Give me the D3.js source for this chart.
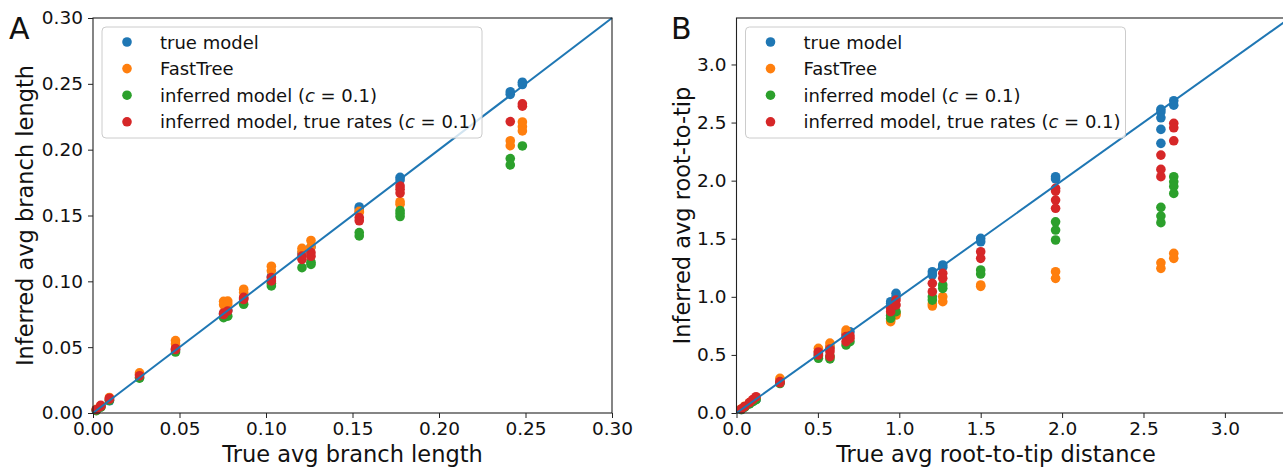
<!DOCTYPE html>
<html>
<head>
<meta charset="utf-8">
<script src="https://cdn.jsdelivr.net/npm/d3@7"></script>
<style>
  body { margin: 0; background: #fff; }
  svg { display: block; font-family: "DejaVu Sans", sans-serif; }
</style>
</head>
<body>
<svg id="chart" width="1283" height="467"></svg>
<script>
// ---- data ([true, inferred]) ----
const seriesNames = ["true model", "FastTree", "inferred model (c = 0.1)", "inferred model, true rates (c = 0.1)"];
const seriesColors = ["#1f77b4", "#ff7f0e", "#2ca02c", "#d62728"];

const ticksA = [0, 0.05, 0.10, 0.15, 0.20, 0.25, 0.30];
const ticksB = [0, 0.5, 1.0, 1.5, 2.0, 2.5, 3.0];

const branchTrue = [[0.0019,0.0022],[0.0045,0.0047],[0.0095,0.0093],[0.0269,0.0268],[0.0477,0.0478],[0.0755,0.0757],[0.0779,0.0780],[0.0871,0.0872],[0.1031,0.1035],[0.1208,0.1212],[0.126,0.1262],[0.1539,0.1565],[0.1539,0.1550],[0.1775,0.1790],[0.1775,0.1770],[0.2412,0.2440],[0.2412,0.2420],[0.2482,0.2512],[0.2482,0.2495]];
const branchFastTree = [[0.0019,0.0028],[0.0045,0.0055],[0.0095,0.0118],[0.0269,0.0305],[0.0269,0.0295],[0.0477,0.0550],[0.0477,0.0525],[0.0755,0.0848],[0.0755,0.0822],[0.0779,0.0850],[0.0779,0.0828],[0.0871,0.0940],[0.0871,0.0915],[0.1031,0.1115],[0.1031,0.1080],[0.1208,0.1250],[0.1208,0.1225],[0.126,0.1310],[0.126,0.1260],[0.1539,0.1532],[0.1539,0.1525],[0.1775,0.1605],[0.1775,0.1585],[0.2412,0.2068],[0.2412,0.2030],[0.2482,0.2210],[0.2482,0.2175],[0.2482,0.2142]];
const branchInferred = [[0.0019,0.0018],[0.0045,0.0044],[0.0095,0.0096],[0.0269,0.0265],[0.0477,0.0463],[0.0755,0.0724],[0.0779,0.0735],[0.0871,0.0826],[0.1031,0.0965],[0.1031,0.0985],[0.1208,0.1104],[0.126,0.1128],[0.126,0.1145],[0.1539,0.1370],[0.1539,0.1345],[0.1775,0.1537],[0.1775,0.1515],[0.1775,0.1492],[0.2412,0.1932],[0.2412,0.1884],[0.2482,0.2028]];
const branchTrueRates = [[0.0019,0.0025],[0.0045,0.0058],[0.0045,0.0050],[0.0095,0.0112],[0.0095,0.0105],[0.0269,0.0283],[0.0477,0.0490],[0.0477,0.0482],[0.0755,0.0760],[0.0755,0.0748],[0.0779,0.0775],[0.0871,0.0878],[0.0871,0.0862],[0.1031,0.1028],[0.1031,0.1003],[0.1208,0.1192],[0.1208,0.1167],[0.126,0.1218],[0.126,0.1190],[0.1539,0.1484],[0.1539,0.1460],[0.1775,0.1724],[0.1775,0.1700],[0.1775,0.1670],[0.2412,0.2213],[0.2482,0.2348],[0.2482,0.2330]];

const rootTrue = [[0.03,0.03],[0.05,0.05],[0.08,0.08],[0.10,0.10],[0.12,0.115],[0.267,0.262],[0.503,0.51],[0.574,0.57],[0.673,0.675],[0.697,0.70],[0.947,0.944],[0.947,0.958],[0.98,1.03],[0.98,1.0],[1.203,1.216],[1.203,1.188],[1.267,1.274],[1.267,1.255],[1.5,1.503],[1.5,1.474],[1.96,2.034],[1.96,2.015],[2.607,2.614],[2.607,2.590],[2.607,2.541],[2.607,2.441],[2.607,2.321],[2.686,2.688],[2.686,2.650]];
const rootFastTree = [[0.03,0.035],[0.05,0.058],[0.08,0.09],[0.10,0.11],[0.12,0.13],[0.267,0.298],[0.267,0.285],[0.503,0.557],[0.503,0.53],[0.574,0.602],[0.574,0.571],[0.673,0.714],[0.673,0.69],[0.947,0.786],[0.947,0.80],[0.98,0.843],[0.98,0.86],[1.203,0.921],[1.203,0.94],[1.267,1.001],[1.267,0.958],[1.5,1.102],[1.5,1.09],[1.96,1.216],[1.96,1.159],[2.607,1.293],[2.607,1.245],[2.686,1.374],[2.686,1.331]];
const rootInferred = [[0.03,0.03],[0.05,0.05],[0.08,0.078],[0.10,0.098],[0.12,0.115],[0.267,0.254],[0.503,0.49],[0.503,0.471],[0.574,0.465],[0.574,0.49],[0.673,0.585],[0.697,0.614],[0.947,0.815],[0.947,0.84],[0.98,0.872],[1.203,0.972],[1.203,1.0],[1.267,1.102],[1.267,1.073],[1.5,1.231],[1.5,1.196],[1.96,1.646],[1.96,1.575],[1.96,1.489],[2.607,1.77],[2.607,1.695],[2.607,1.638],[2.686,2.034],[2.686,1.99],[2.686,1.95],[2.686,1.89]];
const rootTrueRates = [[0.03,0.035],[0.05,0.056],[0.08,0.09],[0.10,0.115],[0.12,0.14],[0.267,0.27],[0.267,0.26],[0.503,0.499],[0.503,0.525],[0.574,0.528],[0.574,0.485],[0.574,0.55],[0.673,0.657],[0.673,0.614],[0.697,0.643],[0.697,0.665],[0.947,0.872],[0.947,0.90],[0.98,0.972],[0.98,0.929],[1.203,1.116],[1.203,1.044],[1.267,1.202],[1.267,1.159],[1.5,1.388],[1.5,1.331],[1.96,1.934],[1.96,1.91],[1.96,1.833],[1.96,1.762],[2.607,2.22],[2.607,2.097],[2.607,2.034],[2.686,2.493],[2.686,2.455],[2.686,2.343]];

const svg = d3.select("#chart");

function drawPanel(opts) {
  const x = d3.scaleLinear().domain(opts.xDomain).range([opts.left, opts.left + opts.width]);
  const y = d3.scaleLinear().domain(opts.yDomain).range([opts.top + opts.height, opts.top]);
  const g = svg.append("g");

  // points, in matplotlib draw order
  opts.series.forEach((pts, i) => {
    g.append("g").selectAll("circle")
      .data(pts)
      .join("circle")
      .attr("cx", d => x(d[0]))
      .attr("cy", d => y(d[1]))
      .attr("r", 4.8)
      .attr("fill", seriesColors[i]);
  });

  // y = x reference line
  g.append("line")
    .attr("x1", x(0)).attr("y1", y(0))
    .attr("x2", x(opts.lineMax)).attr("y2", y(opts.lineMax))
    .attr("stroke", "#1f77b4")
    .attr("stroke-width", 2);

  // frame
  g.append("rect")
    .attr("x", opts.left).attr("y", opts.top)
    .attr("width", opts.width).attr("height", opts.height)
    .attr("fill", "none").attr("stroke", "#222").attr("stroke-width", 1.1);

  const xAxis = g.append("g")
    .attr("transform", `translate(0,${opts.top + opts.height})`)
    .call(d3.axisBottom(x).tickValues(opts.ticks).tickFormat(d3.format(opts.fmt)).tickSize(5).tickPadding(4));
  const yAxis = g.append("g")
    .attr("transform", `translate(${opts.left},0)`)
    .call(d3.axisLeft(y).tickValues(opts.ticks).tickFormat(d3.format(opts.fmt)).tickSize(5).tickPadding(5));
  [xAxis, yAxis].forEach(a => {
    a.select(".domain").remove();
    a.selectAll("line").attr("stroke", "#222");
    a.selectAll("text").attr("font-family", "DejaVu Sans").attr("font-size", 18.5).attr("fill", "#111");
  });

  // axis titles
  svg.append("text")
    .attr("x", opts.left + 519 / 2).attr("y", 462)
    .attr("text-anchor", "middle")
    .attr("font-size", 22.5).attr("fill", "#111")
    .text(opts.xLabel);
  svg.append("text")
    .attr("transform", `translate(${opts.yLabelX},${opts.top + opts.height / 2}) rotate(-90)`)
    .attr("text-anchor", "middle")
    .attr("font-size", 22.5).attr("fill", "#111")
    .text(opts.yLabel);

  // panel letter
  svg.append("text")
    .attr("x", opts.letterX).attr("y", 39)
    .attr("font-size", 30).attr("fill", "#111")
    .text(opts.letter);

  // legend
  const lg = svg.append("g").attr("transform", `translate(${opts.left + 9},27)`);
  lg.append("rect")
    .attr("width", 380).attr("height", 111)
    .attr("rx", 4)
    .attr("fill", "#fff").attr("fill-opacity", 0.8)
    .attr("stroke", "#ccc");
  seriesNames.forEach((name, i) => {
    const row = lg.append("g").attr("transform", `translate(0,${15 + i * 26.6})`);
    row.append("circle").attr("cx", 25).attr("r", 4.8).attr("fill", seriesColors[i]);
    const t = row.append("text").attr("x", 58).attr("y", 6.5).attr("font-size", 18).attr("fill", "#111");
    const m = name.match(/^(.*)\(c = 0\.1\)$/);
    if (m) {
      t.append("tspan").text(m[1] + "(");
      t.append("tspan").attr("font-style", "italic").text("c");
      t.append("tspan").text(" = 0.1)");
    } else {
      t.text(name);
    }
  });
}

drawPanel({
  left: 93, top: 18, width: 519, height: 395,
  xDomain: [0, 0.3], yDomain: [0, 0.3], lineMax: 0.3,
  ticks: ticksA, fmt: ".2f",
  series: [branchTrue, branchFastTree, branchInferred, branchTrueRates],
  xLabel: "True avg branch length", yLabel: "Inferred avg branch length",
  yLabelX: 33, letter: "A", letterX: 9
});

drawPanel({
  left: 736.5, top: 18, width: 553.5, height: 395,
  xDomain: [0, 3.4], yDomain: [0, 3.4], lineMax: 3.4,
  ticks: ticksB, fmt: ".1f",
  series: [rootTrue, rootFastTree, rootInferred, rootTrueRates],
  xLabel: "True avg root-to-tip distance", yLabel: "Inferred avg root-to-tip",
  yLabelX: 690, letter: "B", letterX: 671
});
</script>
</body>
</html>
